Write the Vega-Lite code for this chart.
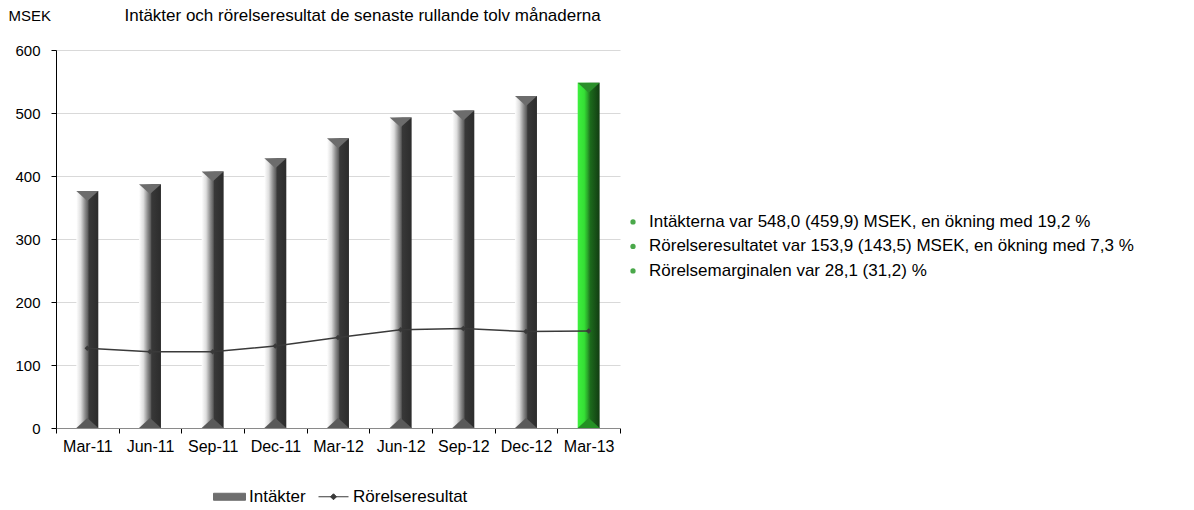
{
  "$schema": "https://vega.github.io/schema/vega-lite/v6.json",
  "background": "white",
  "padding": {"left": 8, "top": 6, "right": 5, "bottom": 2},
  "spacing": 9,
  "config": {
    "font": "Liberation Sans",
    "view": {"stroke": null},
    "axis": {"labelColor": "#000000", "titleColor": "#000000", "labelFontSize": 15, "titleFontSize": 15, "titleFontWeight": "normal"},
    "axisY": {"domainColor": "#000000", "tickColor": "#000000", "tickSize": 5, "labelPadding": 11, "gridColor": "#d9d9d9", "titleAngle": 0, "titleAlign": "left", "titleBaseline": "middle", "titleX": -48, "titleY": -35}
  },
  "hconcat": [
    {
      "width": 564,
      "height": 378,
      "data": {
        "values": [
          {"period": "Mar-11", "intakter": 376, "rorelseresultat": 126.5, "latest": "no"},
          {"period": "Jun-11", "intakter": 387, "rorelseresultat": 121, "latest": "no"},
          {"period": "Sep-11", "intakter": 407, "rorelseresultat": 121, "latest": "no"},
          {"period": "Dec-11", "intakter": 428, "rorelseresultat": 130, "latest": "no"},
          {"period": "Mar-12", "intakter": 459.9, "rorelseresultat": 143.5, "latest": "no"},
          {"period": "Jun-12", "intakter": 493, "rorelseresultat": 156, "latest": "no"},
          {"period": "Sep-12", "intakter": 504, "rorelseresultat": 158, "latest": "no"},
          {"period": "Dec-12", "intakter": 527, "rorelseresultat": 153, "latest": "no"},
          {"period": "Mar-13", "intakter": 548.0, "rorelseresultat": 153.9, "latest": "yes"}
        ]
      },
      "resolve": {"axis": {"x": "independent"}},
      "layer": [
        {
          "transform": [{"filter": "datum.latest === 'no'"}],
          "mark": {
            "type": "bar",
            "width": {"band": 0.35},
            "fill": {"gradient": "linear", "x1": 0, "y1": 0, "x2": 1, "y2": 0,
              "stops": [
                {"offset": 0, "color": "#ffffff"},
                {"offset": 0.2, "color": "#dedede"},
                {"offset": 0.4, "color": "#8a8a8a"},
                {"offset": 0.52, "color": "#606060"},
                {"offset": 0.58, "color": "#383838"},
                {"offset": 1, "color": "#2c2c2c"}
              ]},
            "stroke": null
          },
          "encoding": {
            "x": {"field": "period", "type": "ordinal", "sort": null,
              "scale": {"domain": ["Mar-11", "Jun-11", "Sep-11", "Dec-11", "Mar-12", "Jun-12", "Sep-12", "Dec-12", "Mar-13"], "paddingInner": 0, "paddingOuter": 0},
              "axis": {"orient": "bottom", "title": null, "labelAngle": 0, "labelFontSize": 16, "tickBand": "extent", "tickSize": 5, "tickColor": "#000000", "domainColor": "#8a8a8a", "labelPadding": 5, "grid": false}},
            "y": {"field": "intakter", "type": "quantitative", "title": "MSEK",
              "scale": {"domain": [0, 600]},
              "axis": {"values": [0, 100, 200, 300, 400, 500, 600]}}
          }
        },
        {
          "transform": [{"filter": "datum.latest === 'yes'"}],
          "mark": {
            "type": "bar",
            "width": {"band": 0.35},
            "fill": {"gradient": "linear", "x1": 0, "y1": 0, "x2": 1, "y2": 0,
              "stops": [
                {"offset": 0, "color": "#3ef03e"},
                {"offset": 0.3, "color": "#35e035"},
                {"offset": 0.45, "color": "#2aa62a"},
                {"offset": 0.58, "color": "#1c6a1c"},
                {"offset": 1, "color": "#123c12"}
              ]},
            "stroke": null
          },
          "encoding": {
            "x": {"field": "period", "type": "ordinal", "sort": null, "axis": null},
            "y": {"field": "intakter", "type": "quantitative", "title": "MSEK"}
          }
        },
        {
          "mark": {"type": "point", "filled": true, "opacity": 1, "strokeWidth": 0, "size": 484, "shape": "M-1,0L1,0L0,0.9Z"},
          "encoding": {
            "x": {"field": "period", "type": "ordinal", "sort": null, "axis": null},
            "y": {"field": "intakter", "type": "quantitative", "title": "MSEK"},
            "color": {"condition": {"test": "datum.latest === 'yes'", "value": "#2a8f2a"}, "value": "#6c6c6c"}
          }
        },
        {
          "mark": {"type": "point", "filled": true, "opacity": 1, "strokeWidth": 0, "size": 484, "shape": "M-1,0L1,0L0,-0.9Z"},
          "encoding": {
            "x": {"field": "period", "type": "ordinal", "sort": null, "axis": null},
            "y": {"datum": 0, "type": "quantitative", "title": "MSEK"},
            "color": {"condition": {"test": "datum.latest === 'yes'", "value": "#249024"}, "value": "#5a5a5a"}
          }
        },
        {
          "mark": {"type": "line", "strokeWidth": 1.5, "point": {"shape": "diamond", "size": 30, "filled": true}},
          "encoding": {
            "x": {"field": "period", "type": "ordinal", "sort": null,
              "axis": {"orient": "top", "title": "Intäkter och rörelseresultat de senaste rullande tolv månaderna", "labels": false, "ticks": false, "domain": false, "grid": false,
                "titleX": 68, "titleY": -35, "titleAlign": "left", "titleBaseline": "middle", "titleFontSize": 17, "titleFontWeight": "normal"}},
            "y": {"field": "rorelseresultat", "type": "quantitative", "title": "MSEK"},
            "color": {"datum": "Rörelseresultat", "type": "nominal",
              "scale": {"domain": ["Intäkter", "Rörelseresultat"], "range": ["#6e6e6e", "#3a3a3a"]},
              "legend": {
                "orient": "none", "legendX": 163, "legendY": 436, "padding": 0,
                "direction": "horizontal", "title": null,
                "labelFontSize": 17, "labelColor": "#000000", "labelOffset": 9, "columnPadding": 10,
                "symbolSize": 400,
                "encode": {
                  "symbols": {
                    "update": {
                      "shape": {"signal": "datum.value === 'Intäkter' ? 'M-1.6,-0.35L1.6,-0.35L1.6,0.35L-1.6,0.35Z' : 'M-1.5,0L1.5,0M-0.3,0L0,-0.3L0.3,0L0,0.3Z'"},
                      "fill": {"signal": "datum.value === 'Intäkter' ? '#6e6e6e' : '#333333'"},
                      "stroke": {"signal": "datum.value === 'Intäkter' ? '#555555' : '#333333'"},
                      "strokeWidth": {"value": 1},
                      "opacity": {"value": 1}
                    }
                  }
                }
              }}
          }
        }
      ]
    },
    {
      "width": 540,
      "height": 378,
      "data": {
        "values": [
          {"row": 1, "text": "Intäkterna var 548,0 (459,9) MSEK, en ökning med 19,2 %"},
          {"row": 2, "text": "Rörelseresultatet var 153,9 (143,5) MSEK, en ökning med 7,3 %"},
          {"row": 3, "text": "Rörelsemarginalen var 28,1 (31,2) %"}
        ]
      },
      "encoding": {
        "x": {"datum": 0, "type": "quantitative", "scale": {"domain": [0, 1]}, "axis": null},
        "y": {"field": "row", "type": "quantitative", "scale": {"domain": [-6.02, 9.41], "reverse": true}, "axis": null}
      },
      "layer": [
        {"mark": {"type": "point", "filled": true, "opacity": 1, "color": "#4aa84a", "size": 28}},
        {"mark": {"type": "text", "align": "left", "baseline": "middle", "dx": 16, "fontSize": 17, "color": "#000000"},
         "encoding": {"text": {"field": "text"}}}
      ]
    }
  ]
}
